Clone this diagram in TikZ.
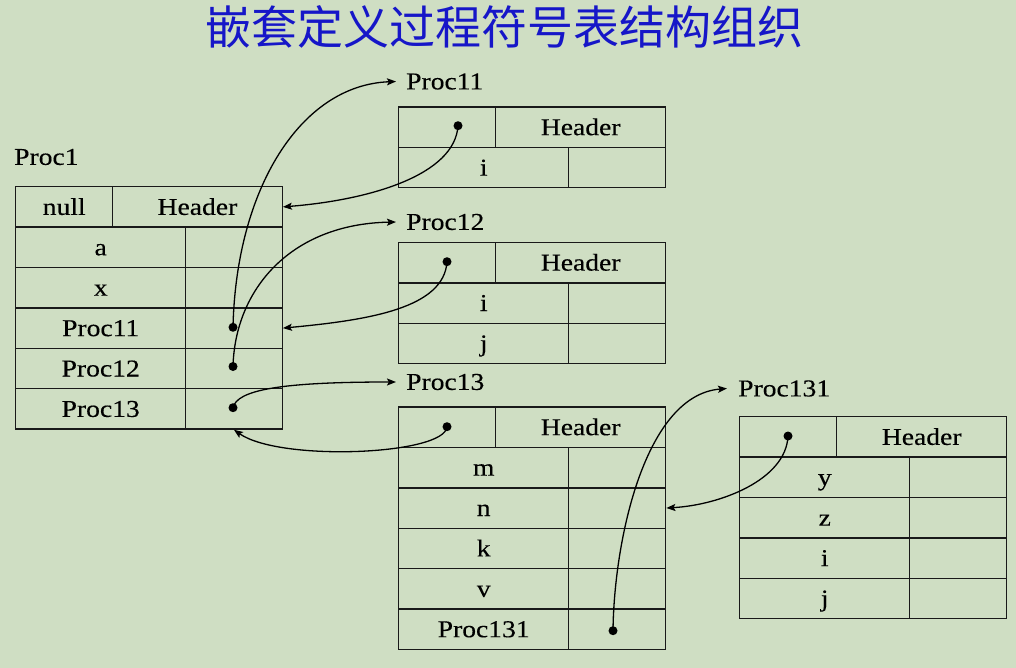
\documentclass[tikz,border=0pt]{standalone}
\usepackage{fontspec}
\setmainfont{Liberation Serif}[FakeStretch=1.14,FakeBold=0.3]
\newfontfamily\cjk{Noto Sans CJK SC}
\usetikzlibrary{arrows.meta}
\definecolor{bg}{RGB}{207,222,195}
\definecolor{titleblue}{RGB}{22,22,200}
\definecolor{ln}{RGB}{25,25,25}
\tikzset{
  txt/.style={font=\fontsize{24.2}{28}\selectfont},
  cell/.style={txt, draw=ln, line width=1.4pt, inner sep=0pt, anchor=north west,
    text height=16pt, text depth=0pt,
    minimum height=40.4pt, minimum width=#1},
  lbl/.style={txt, inner sep=0pt, anchor=west},
  dotn/.style={circle, fill=black, inner sep=0pt, minimum size=9pt},
  conn/.style={line width=1.3pt, -{Stealth[length=9pt,width=7pt,inset=1.8pt]}}
}
\begin{document}
\begin{tikzpicture}[x=1pt,y=-1pt]
\fill[bg] (0,0) rectangle (1016,668);
\useasboundingbox (0,0) rectangle (1016,668);
\node[font=\cjk\fontsize{46}{50}\selectfont, text=titleblue, inner sep=0pt] (title) at (504,27) {嵌套定义过程符号表结构组织};

% Proc1
\node[lbl] (l1) at (14,157) {Proc1};
\node[cell=97pt] (p1n) at (15,186) {null};
\node[cell=169.5pt] (p1h) at (112,186) {Header};
\node[cell=170pt] (p1a) at (15,226.4) {a};
\node[cell=96.5pt] (p1av) at (185,226.4) {};
\node[cell=170pt] (p1x) at (15,266.8) {x};
\node[cell=96.5pt] (p1xv) at (185,266.8) {};
\node[cell=170pt] (p1p11) at (15,307.2) {Proc11};
\node[cell=96.5pt] (p1p11v) at (185,307.2) {};
\node[cell=170pt] (p1p12) at (15,347.6) {Proc12};
\node[cell=96.5pt] (p1p12v) at (185,347.6) {};
\node[cell=170pt] (p1p13) at (15,388) {Proc13};
\node[cell=96.5pt] (p1p13v) at (185,388) {};

% Proc11
\node[lbl] (l11) at (396,81.5) {\hspace*{10pt}Proc11};
\node[cell=97pt] (q1d) at (398,106.3) {};
\node[cell=170pt] (q1h) at (495,106.3) {Header};
\node[cell=170pt] (q1i) at (398,146.7) {i};
\node[cell=97pt] (q1iv) at (568,146.7) {};

% Proc12
\node[lbl] (l12) at (396,222) {\hspace*{10pt}Proc12};
\node[cell=97pt] (q2d) at (398,241.7) {};
\node[cell=170pt] (q2h) at (495,241.7) {Header};
\node[cell=170pt] (q2i) at (398,282.1) {i};
\node[cell=97pt] (q2iv) at (568,282.1) {};
\node[cell=170pt] (q2j) at (398,322.5) {j};
\node[cell=97pt] (q2jv) at (568,322.5) {};

% Proc13
\node[lbl] (l13) at (396,382) {\hspace*{10pt}Proc13};
\node[cell=97pt] (q3d) at (398,406.3) {};
\node[cell=170pt] (q3h) at (495,406.3) {Header};
\node[cell=170pt] (q3m) at (398,446.7) {m};
\node[cell=97pt] (q3mv) at (568,446.7) {};
\node[cell=170pt] (q3n) at (398,487.1) {n};
\node[cell=97pt] (q3nv) at (568,487.1) {};
\node[cell=170pt] (q3k) at (398,527.5) {k};
\node[cell=97pt] (q3kv) at (568,527.5) {};
\node[cell=170pt] (q3v) at (398,567.9) {v};
\node[cell=97pt] (q3vv) at (568,567.9) {};
\node[cell=170pt] (q3p) at (398,608.3) {Proc131};
\node[cell=97pt] (q3pv) at (568,608.3) {};

% Proc131
\node[lbl] (l131) at (727,388.5) {\hspace*{11pt}Proc131};
\node[cell=97pt] (r1d) at (739,416) {};
\node[cell=170pt] (r1h) at (836,416) {Header};
\node[cell=170pt] (r1y) at (739,456.4) {y};
\node[cell=96.5pt] (r1yv) at (909,456.4) {};
\node[cell=170pt] (r1z) at (739,496.8) {z};
\node[cell=96.5pt] (r1zv) at (909,496.8) {};
\node[cell=170pt] (r1i) at (739,537.2) {i};
\node[cell=96.5pt] (r1iv) at (909,537.2) {};
\node[cell=170pt] (r1j) at (739,577.6) {j};
\node[cell=96.5pt] (r1jv) at (909,577.6) {};

% dots
\node[dotn] (d11) at (233,327.3) {};
\node[dotn] (d12) at (233,366.5) {};
\node[dotn] (d13) at (233,407.7) {};
\node[dotn] (h11) at (458,125.7) {};
\node[dotn] (h12) at (447,261.7) {};
\node[dotn] (h13) at (447,426.7) {};
\node[dotn] (d131) at (613,630.7) {};
\node[dotn] (h131) at (788,436) {};

% connectors
\draw[conn] (d11.center) .. controls (236,190) and (300,85) .. (l11.west);
\draw[conn] (h11.center) .. controls (455,175) and (370,200) .. (p1h.east);
\draw[conn] (d12.center) .. controls (235,290) and (290,224) .. (l12.west);
\draw[conn] (h12.center) .. controls (444,308) and (370,320) .. (p1p11v.east);
\draw[conn] (d13.center) .. controls (237,390) and (280,382) .. (l13.west);
\draw[conn] (h13.center) .. controls (445,455) and (280,462) .. (p1p13v.south);
\draw[conn] (d131.center) .. controls (614,540) and (645,395) .. (l131.west);
\draw[conn] (h131.center) .. controls (786,480) and (720,505) .. (q3nv.east);
\end{tikzpicture}
\end{document}
